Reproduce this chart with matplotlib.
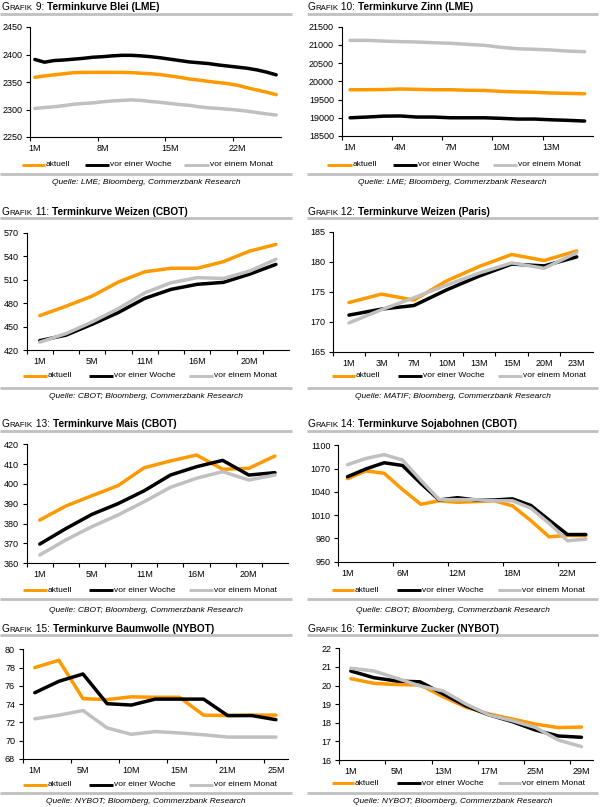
import matplotlib
matplotlib.use('Agg')
import matplotlib.pyplot as plt
import numpy as np
from matplotlib.lines import Line2D

plt.rcParams['font.family'] = ['Liberation Sans', 'DejaVu Sans']

W, H, DPI = 600, 807, 100
fig = plt.figure(figsize=(W / DPI, H / DPI), dpi=DPI)

ORANGE, BLACK, GRAY, RULE = '#FF9900', '#000000', '#C0C0C0', '#C0C0C0'
COLORS = [ORANGE, BLACK, GRAY]
SERIES_NAMES = ['aktuell', 'vor einer Woche', 'vor einem Monat']

# ---------------- data ----------------
blei_cats = [f'{i}M' for i in range(1, 27)]
blei_aktuell = [2358.5, 2361, 2363, 2365, 2367, 2367.5, 2367.5, 2367.5, 2367.5, 2367.5, 2367, 2366, 2365,
                2363.5, 2361, 2358.5, 2355.5, 2353.5, 2351, 2349, 2347, 2344, 2339.5, 2335.5, 2331.5, 2327]
blei_woche = [2391, 2386, 2389, 2390, 2391.5, 2393, 2395, 2396, 2397.5, 2398.5, 2398.5, 2397.5, 2396,
              2394, 2391.5, 2389, 2386.5, 2385, 2383.5, 2381, 2379, 2377, 2375, 2372, 2368, 2363]
blei_monat = [2302, 2303.5, 2305, 2307, 2309.5, 2311, 2312, 2314, 2315.5, 2316.5, 2317.5, 2316.5, 2314.5,
              2313, 2311, 2309, 2307.5, 2305, 2303, 2302, 2300.5, 2299, 2297, 2294.5, 2292, 2290]

zinn_cats = [f'{i}M' for i in range(1, 16)]
zinn_aktuell = [19770, 19770, 19775, 19790, 19780, 19770, 19770, 19755, 19750, 19725, 19710, 19700, 19680, 19670, 19660]
zinn_woche = [19000, 19020, 19045, 19050, 19020, 19020, 19000, 19000, 19000, 18985, 18965, 18965, 18945, 18930, 18910]
zinn_monat = [21125, 21125, 21105, 21090, 21080, 21060, 21045, 21015, 20990, 20935, 20895, 20880, 20860, 20830, 20815]

wcbot_cats = ['1M', '3M', '5M', '8M', '11M', '13M', '16M', '18M', '20M', '23M']
wcbot_aktuell = [464, 476, 489, 507, 520, 524.5, 524.5, 533, 546.5, 555]
wcbot_woche = [432, 439, 453, 468, 486, 497.5, 504, 506.5, 517, 529.5]
wcbot_monat = [430, 441, 456, 473, 493, 506, 512.5, 511.5, 521, 536]

wparis_cats = ['1M', '3M', '7M', '10M', '13M', '15M', '20M', '23M']
wparis_aktuell = [173.2, 174.6, 173.6, 176.8, 179.2, 181.2, 180.2, 181.8]
wparis_woche = [171.1, 172.1, 172.7, 175.3, 177.6, 179.6, 179.3, 180.8]
wparis_monat = [169.8, 172.0, 174.0, 176.1, 178.1, 179.8, 178.9, 181.5]

mais_cats = ['1M', '3M', '5M', '8M', '11M', '13M', '16M', '18M', '20M', '23M']
mais_aktuell = [381.8, 388.9, 394.1, 399.2, 408.2, 411.6, 414.6, 407.4, 407.9, 414.1]
mais_woche = [369.7, 377.5, 384.7, 390.1, 396.6, 404.5, 408.7, 411.9, 404.5, 405.7]
mais_monat = [364.2, 371.8, 378.5, 384.4, 391.1, 398.3, 402.9, 406.2, 402.0, 404.5]

soja_cats = ['1M', '2M', '4M', '6M', '7M', '8M', '12M', '14M', '16M', '18M', '19M', '20M', '22M', '24M']
soja_aktuell = [1057, 1067, 1064, 1043, 1024, 1028.5, 1026.5, 1027.5, 1028.5, 1022, 1003, 982, 984, 983.5]
soja_woche = [1059.5, 1069.5, 1077.5, 1074, 1051, 1029.5, 1032.5, 1029.5, 1029.5, 1031, 1022.5, 1003.5, 985, 985]
soja_monat = [1075, 1083, 1088, 1081, 1055, 1030, 1030, 1030, 1028.5, 1028.5, 1019, 999.5, 977, 979]

baum_cats = ['1M', '3M', '5M', '7M', '10M', '12M', '15M', '17M', '21M', '23M', '25M']
baum_aktuell = [78.0, 78.8, 74.6, 74.5, 74.8, 74.75, 74.75, 72.8, 72.75, 72.8, 72.8]
baum_woche = [75.25, 76.5, 77.3, 74.05, 73.9, 74.55, 74.55, 74.55, 72.75, 72.75, 72.3]
baum_monat = [72.4, 72.8, 73.3, 71.4, 70.7, 71.0, 70.85, 70.65, 70.4, 70.4, 70.4]

zucker_cats = ['1M', '3M', '5M', '8M', '13M', '15M', '17M', '20M', '25M', '27M', '29M']
zucker_aktuell = [20.37, 20.12, 20.05, 20.03, 19.4, 18.83, 18.47, 18.2, 17.93, 17.74, 17.77]
zucker_woche = [20.78, 20.42, 20.24, 20.2, 19.55, 18.9, 18.42, 18.06, 17.61, 17.29, 17.22]
zucker_monat = [20.93, 20.78, 20.39, 19.98, 19.71, 19.0, 18.42, 18.11, 17.75, 17.07, 16.72]

# ---------------- helpers ----------------
renderer = fig.canvas.get_renderer()


def fx(x):
    return x / W


def fy(y):
    return 1 - y / H


def hline(x0, x1, y, color, lw):
    fig.add_artist(Line2D([fx(x0), fx(x1)], [fy(y), fy(y)], color=color, lw=lw,
                          solid_capstyle='butt', transform=fig.transFigure))


def title(x, yb, num, text, fs=7.3):
    parts = [('G', fs, 'normal'), ('RAFIK', fs * 0.78, 'normal'), (f' {num}: ', fs, 'normal'),
             (text, fs, 'bold')]
    xp = x
    for s, size, weight in parts:
        t = fig.text(fx(xp), fy(yb), s, fontsize=size, fontweight=weight, va='baseline', ha='left',
                     color='black')
        bb = t.get_window_extent(renderer)
        xp = bb.x1


def legend(y, xs):
    for (xa, xb), col, name in zip(xs, COLORS, SERIES_NAMES):
        hline(xa, xb, y, col, 2.1)
        fig.text(fx(xb + 1), fy(y), name, fontsize=6, va='center', ha='left')


def panel(box, cats, series, ylim, ystep, tick_every, label_every):
    x0, y0, x1, y1 = box
    ax = fig.add_axes([fx(x0), fy(y1), (x1 - x0) / W, (y1 - y0) / H])
    n = len(cats)
    xs = np.arange(n)
    for vals, col in zip(series, COLORS):
        ax.plot(xs, vals, color=col, lw=2.5, solid_joinstyle='round', solid_capstyle='round')
    ax.set_xlim(-0.5, n - 0.5)
    ax.set_ylim(*ylim)
    ax.set_yticks(np.arange(ylim[0], ylim[1] + ystep / 2, ystep))
    ax.yaxis.set_major_formatter(matplotlib.ticker.FormatStrFormatter('%d'))
    ax.set_xticks(np.arange(-0.5, n - 0.5, tick_every))
    ax.set_xticklabels([])
    ax.set_xticks(xs[::label_every], minor=True)
    ax.set_xticklabels(cats[::label_every], minor=True)
    ax.tick_params(axis='x', which='major', length=3, width=0.8, direction='out')
    ax.tick_params(axis='x', which='minor', length=0, pad=5, labelsize=6.5)
    ax.tick_params(axis='y', length=3, width=0.8, direction='out', pad=2.5, labelsize=6.5)
    for s in ['top', 'right']:
        ax.spines[s].set_visible(False)
    for s in ['left', 'bottom']:
        ax.spines[s].set_linewidth(0.8)
    ax.set_facecolor('none')
    return ax


def block(side, rule_top, rule_bot, src_y, num, text, src):
    if side == 'L':
        rx0, rx1, tx, cx = 0, 292, 2, 146
    else:
        rx0, rx1, tx, cx = 307, 598, 307.5, 452.5
    hline(rx0, rx1, rule_top, RULE, 2.0)
    hline(rx0, rx1, rule_bot, RULE, 2.0)
    title(tx, rule_top - 3.7, num, text)
    fig.text(fx(cx), fy(src_y), src, fontsize=6, style='italic', ha='center', va='center')


# ---------------- panels ----------------
panel((30, 27, 281, 137), blei_cats, [blei_aktuell, blei_woche, blei_monat], (2250, 2450), 50, 7, 7)
block('L', 13.7, 173.8, 183, 9, 'Terminkurve Blei (LME)', 'Quelle: LME; Bloomberg, Commerzbank Research')
legend(165, [(21.7, 45), (85, 109), (184, 209)])

panel((341.7, 26.7, 593, 136), zinn_cats, [zinn_aktuell, zinn_woche, zinn_monat], (18500, 21500), 500, 3, 3)
block('R', 13.7, 173.8, 183, 10, 'Terminkurve Zinn (LME)', 'Quelle: LME; Bloomberg, Commerzbank Research')
legend(165, [(326.7, 351.7), (393, 417), (492.7, 517.3)])

panel((26.7, 232.7, 289, 350), wcbot_cats, [wcbot_aktuell, wcbot_woche, wcbot_monat], (420, 570), 30, 1, 2)
block('L', 218.3, 388.3, 396.7, 11, 'Terminkurve Weizen (CBOT)', 'Quelle: CBOT; Bloomberg, Commerzbank Research')
legend(375.7, [(23, 47), (89, 113), (189, 213)])

panel((332.7, 231.7, 593, 351.7), wparis_cats, [wparis_aktuell, wparis_woche, wparis_monat], (165, 185), 5, 1, 1)
block('R', 218.3, 388.3, 396.7, 12, 'Terminkurve Weizen (Paris)', 'Quelle: MATIF; Bloomberg, Commerzbank Research')
legend(375.7, [(331.7, 355), (398, 421.7), (498, 521.7)])

panel((26.7, 444.3, 288, 563.3), mais_cats, [mais_aktuell, mais_woche, mais_monat], (360, 420), 10, 1, 2)
block('L', 431, 599, 610, 13, 'Terminkurve Mais (CBOT)', 'Quelle: CBOT; Bloomberg, Commerzbank Research')
legend(590, [(23, 47), (89, 113), (189, 213)])

panel((338.3, 445.3, 595, 561.7), soja_cats, [soja_aktuell, soja_woche, soja_monat], (950, 1100), 30, 3, 3)
block('R', 431, 599, 610, 14, 'Terminkurve Sojabohnen (CBOT)', 'Quelle: CBOT; Bloomberg, Commerzbank Research')
legend(590, [(331.7, 354), (397, 420.7), (498, 520.7)])

panel((22.7, 649.3, 288, 759), baum_cats, [baum_aktuell, baum_woche, baum_monat], (68, 80), 2, 2, 2)
block('L', 635.3, 792.8, 801.7, 15, 'Terminkurve Baumwolle (NYBOT)', 'Quelle: NYBOT; Bloomberg, Commerzbank Research')
legend(785, [(22.7, 46.7), (89, 113), (189, 213)])

panel((339.3, 648.3, 593, 760), zucker_cats, [zucker_aktuell, zucker_woche, zucker_monat], (16, 22), 1, 2, 2)
block('R', 635.3, 792.8, 801.7, 16, 'Terminkurve Zucker (NYBOT)', 'Quelle: NYBOT; Bloomberg, Commerzbank Research')
legend(783.3, [(331.7, 354), (397, 420.7), (498, 520.7)])

fig.savefig('out.png', dpi=DPI)
